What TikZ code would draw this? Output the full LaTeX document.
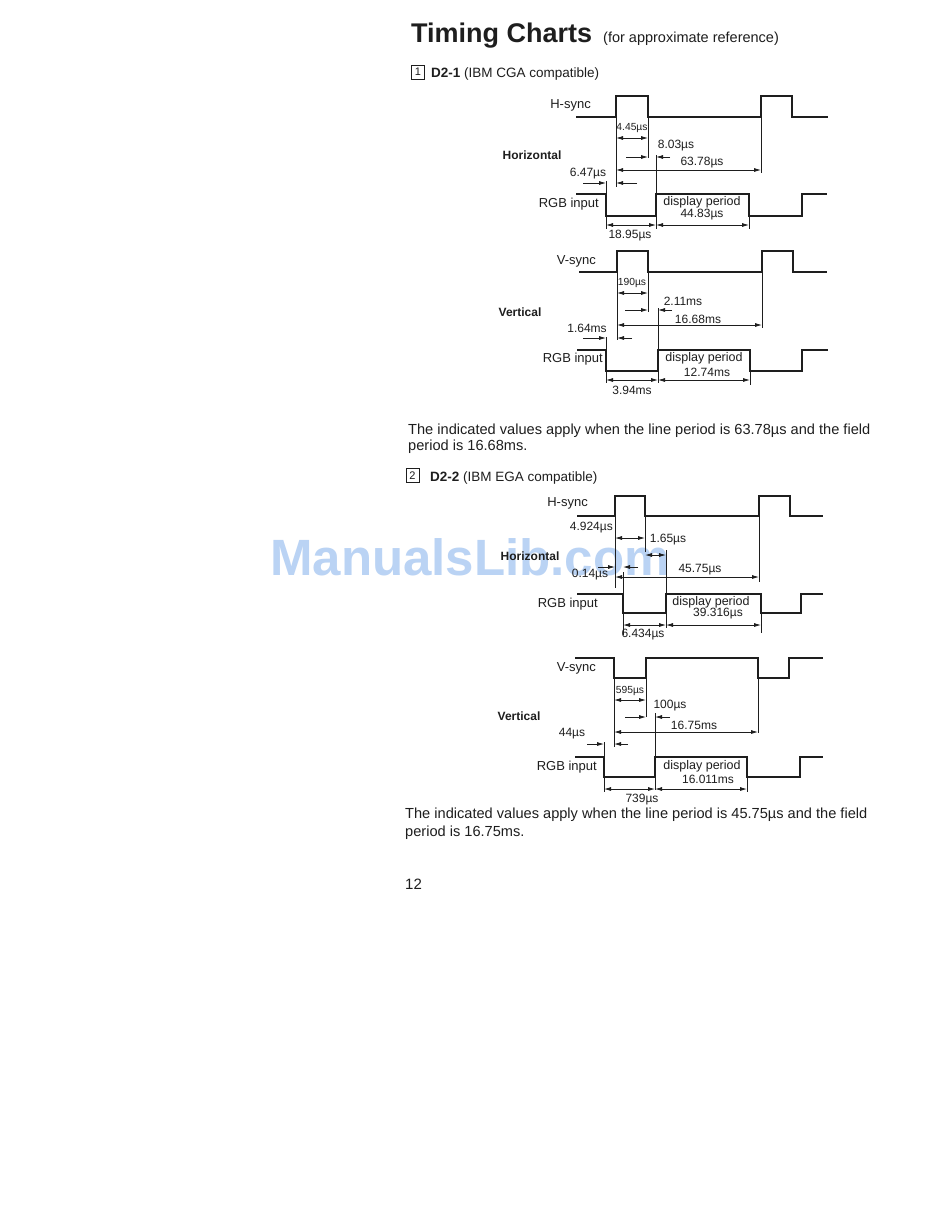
\documentclass[tikz,border=0pt]{standalone}
\usepackage{fontspec}
\setmainfont{Liberation Sans}
\usetikzlibrary{arrows.meta}
\definecolor{ink}{RGB}{30,30,30}
\definecolor{watermark}{RGB}{186,211,244}

\tikzset{
    wave/.style={line width=2.6pt, line join=miter, line cap=butt},
    guide/.style={line width=0.8pt},
    dim/.style={line width=0.8pt},
    lbl/.style={font=\fontsize{13}{15}\selectfont, inner sep=0pt},
    disp/.style={font=\fontsize{12.5}{14}\selectfont, inner sep=0pt},
    num/.style={font=\fontsize{12}{14}\selectfont, inner sep=0pt},
    numsm/.style={font=\fontsize{10.3}{12}\selectfont, inner sep=0pt},
    axis/.style={font=\bfseries\fontsize{12}{14}\selectfont, inner sep=0pt},
    body/.style={font=\fontsize{14.6}{17}\selectfont, inner sep=0pt, anchor=base west},
    numbox/.style={draw, line width=0.8pt, minimum width=13pt, minimum height=14pt, inner sep=0pt, font=\fontsize{11}{12}\selectfont},
}

\begin{document}
\begin{tikzpicture}[x=1pt, y=-1pt, ink, >={Latex[length=7pt,width=4pt]}]

    \fill[white] (0,0) rectangle (950,1220);
    \useasboundingbox (0,0) rectangle (950,1220);

    \node[watermark, inner sep=0pt, anchor=base west, font=\bfseries\fontsize{51}{55}\selectfont] (wm) at (270,575) {ManualsLib.com};

    \node[inner sep=0pt, anchor=base west, font=\bfseries\fontsize{27}{30}\selectfont] (title) at (411,43) {Timing Charts};
    \node[body, font=\fontsize{14.5}{17}\selectfont] (subtitle) at (603,43) {(for approximate reference)};

    % D2-1
    \node[numbox] (boxA) at (418,72) {1};
    \node[body, font=\fontsize{13.5}{16}\selectfont] (headA) at (431,77.5) {\textbf{D2-1} (IBM CGA compatible)};

    \begin{scope}[shift={(0,117)}]
        \draw[wave] (576,0) -- (616,0) -- (616,-21) -- (648,-21) -- (648,0) -- (761,0) -- (761,-21) -- (792,-21) -- (792,0) -- (828,0);
        \draw[wave] (576,77) -- (606,77) -- (606,99) -- (656,99) -- (656,77) -- (749,77) -- (749,99) -- (802,99) -- (802,77) -- (827,77);

        \draw[guide] (616,0) -- (616,70);
        \draw[guide] (648,0) -- (648,41);
        \draw[guide] (761,0) -- (761,56);
        \draw[guide] (656,38) -- (656,77);
        \draw[guide] (606,64) -- (606,77);
        \draw[guide] (606,99) -- (606,112);
        \draw[guide] (656,99) -- (656,112);
        \draw[guide] (749,99) -- (749,112);

        \draw[dim, <->] (616,21) -- (648,21);
        \draw[dim, ->] (626,40) -- (648,40);
        \draw[dim, ->] (670,40) -- (656,40);
        \draw[dim, <->] (616,53) -- (761,53);
        \draw[dim, ->] (583,66) -- (606,66);
        \draw[dim, ->] (637,66) -- (616,66);
        \draw[dim, <->] (606,108) -- (656,108);
        \draw[dim, <->] (656,108) -- (749,108);

        \node[lbl, anchor=east] (hsyncA) at (591,-12) {H-sync};
        \node[numsm] (tA1) at (632,11) {4.45µs};
        \node[num] (tA2) at (676,29) {8.03µs};
        \node[num] (tA3) at (702,46) {63.78µs};
        \node[num] (tA4) at (588,57) {6.47µs};
        \node[axis] (horA) at (532,38) {Horizontal};
        \node[lbl, anchor=east] (rgbA) at (599,87) {RGB input};
        \node[disp] (dispA) at (702,85) {display period};
        \node[num] (tA5) at (702,98) {44.83µs};
        \node[num] (tA6) at (630,119) {18.95µs};
    \end{scope}

    \begin{scope}[shift={(0,272)}]
        \draw[wave] (579,0) -- (617,0) -- (617,-21) -- (648,-21) -- (648,0) -- (762,0) -- (762,-21) -- (793,-21) -- (793,0) -- (827,0);
        \draw[wave] (577,78) -- (606,78) -- (606,99) -- (658,99) -- (658,78) -- (750,78) -- (750,99) -- (802,99) -- (802,78) -- (828,78);

        \draw[guide] (617,0) -- (617,68);
        \draw[guide] (648,0) -- (648,40);
        \draw[guide] (762,0) -- (762,56);
        \draw[guide] (658,36) -- (658,78);
        \draw[guide] (606,65) -- (606,78);
        \draw[guide] (606,99) -- (606,111);
        \draw[guide] (658,99) -- (658,111);
        \draw[guide] (750,99) -- (750,113);

        \draw[dim, <->] (617,21) -- (648,21);
        \draw[dim, ->] (625,38) -- (648,38);
        \draw[dim, ->] (672,38) -- (658,38);
        \draw[dim, <->] (617,53) -- (762,53);
        \draw[dim, ->] (583,66) -- (606,66);
        \draw[dim, ->] (632,66) -- (617,66);
        \draw[dim, <->] (606,108) -- (658,108);
        \draw[dim, <->] (658,108) -- (750,108);

        \node[lbl, anchor=east] (vsyncB) at (596,-11) {V-sync};
        \node[numsm] (tB1) at (632,11) {190µs};
        \node[num] (tB2) at (683,29) {2.11ms};
        \node[num] (tB3) at (698,47) {16.68ms};
        \node[num] (tB4) at (587,56) {1.64ms};
        \node[axis] (verB) at (520,40) {Vertical};
        \node[lbl, anchor=east] (rgbB) at (603,87) {RGB input};
        \node[disp] (dispB) at (704,86) {display period};
        \node[num] (tB5) at (707,100) {12.74ms};
        \node[num] (tB6) at (632,118) {3.94ms};
    \end{scope}

    \node[body] (noteA1) at (408,434) {The indicated values apply when the line period is 63.78µs and the field};
    \node[body] (noteA2) at (408,450) {period is 16.68ms.};

    % D2-2
    \node[numbox] (boxB) at (412.5,475.5) {2};
    \node[body, font=\fontsize{13.5}{16}\selectfont] (headB) at (430,481) {\textbf{D2-2} (IBM EGA compatible)};

    \begin{scope}[shift={(0,516)}]
        \draw[wave] (577,0) -- (615,0) -- (615,-20) -- (645,-20) -- (645,0) -- (759,0) -- (759,-20) -- (790,-20) -- (790,0) -- (823,0);
        \draw[wave] (577,78) -- (623,78) -- (623,97) -- (666,97) -- (666,78) -- (761,78) -- (761,97) -- (801,97) -- (801,78) -- (823,78);

        \draw[guide] (615,0) -- (615,72);
        \draw[guide] (645,0) -- (645,36);
        \draw[guide] (759,0) -- (759,66);
        \draw[guide] (666,34) -- (666,78);
        \draw[guide] (623,56) -- (623,78);
        \draw[guide] (623,97) -- (623,119);
        \draw[guide] (666,97) -- (666,112);
        \draw[guide] (761,97) -- (761,117);

        \draw[dim, <->] (615,22) -- (645,22);
        \draw[dim, <->] (645,39) -- (666,39);
        \draw[dim, ->] (598,51) -- (615,51);
        \draw[dim, ->] (638,51) -- (623,51);
        \draw[dim, <->] (615,61) -- (759,61);
        \draw[dim, <->] (623,109) -- (666,109);
        \draw[dim, <->] (666,109) -- (761,109);

        \node[lbl, anchor=east] (hsyncC) at (588,-13) {H-sync};
        \node[num, anchor=east] (tC1) at (613,12) {4.924µs};
        \node[num] (tC2) at (668,24) {1.65µs};
        \node[num] (tC3) at (590,59) {0.14µs};
        \node[num] (tC4) at (700,54) {45.75µs};
        \node[axis] (horC) at (530,40) {Horizontal};
        \node[lbl, anchor=east] (rgbC) at (598,88) {RGB input};
        \node[disp] (dispC) at (711,86) {display period};
        \node[num] (tC5) at (718,98) {39.316µs};
        \node[num] (tC6) at (643,119) {6.434µs};
    \end{scope}

    \begin{scope}[shift={(0,678)}]
        \draw[wave] (575,-20) -- (614,-20) -- (614,0) -- (646,0) -- (646,-20) -- (758,-20) -- (758,0) -- (789,0) -- (789,-20) -- (823,-20);
        \draw[wave] (575,79) -- (604,79) -- (604,99) -- (655,99) -- (655,79) -- (747,79) -- (747,99) -- (800,99) -- (800,79) -- (823,79);

        \draw[guide] (614,0) -- (614,69);
        \draw[guide] (646,0) -- (646,39);
        \draw[guide] (758,0) -- (758,55);
        \draw[guide] (655,35) -- (655,79);
        \draw[guide] (604,64) -- (604,79);
        \draw[guide] (604,99) -- (604,114);
        \draw[guide] (655,99) -- (655,112);
        \draw[guide] (747,99) -- (747,114);

        \draw[dim, <->] (614,22) -- (646,22);
        \draw[dim, ->] (625,39) -- (646,39);
        \draw[dim, ->] (670,39) -- (655,39);
        \draw[dim, <->] (614,54) -- (758,54);
        \draw[dim, ->] (587,66) -- (604,66);
        \draw[dim, ->] (628,66) -- (614,66);
        \draw[dim, <->] (604,111) -- (655,111);
        \draw[dim, <->] (655,111) -- (747,111);

        \node[lbl, anchor=east] (vsyncD) at (596,-10) {V-sync};
        \node[numsm] (tD1) at (630,13) {595µs};
        \node[num] (tD2) at (670,28) {100µs};
        \node[num] (tD3) at (694,47) {16.75ms};
        \node[num] (tD4) at (572,56) {44µs};
        \node[axis] (verD) at (519,38) {Vertical};
        \node[lbl, anchor=east] (rgbD) at (597,89) {RGB input};
        \node[disp] (dispD) at (702,88) {display period};
        \node[num] (tD5) at (708,101) {16.011ms};
        \node[num] (tD6) at (642,122) {739µs};
    \end{scope}

    \node[body] (noteB1) at (405,818) {The indicated values apply when the line period is 45.75µs and the field};
    \node[body] (noteB2) at (405,836) {period is 16.75ms.};

    \node[body, font=\fontsize{15}{18}\selectfont] (page) at (405,889) {12};

\end{tikzpicture}
\end{document}
